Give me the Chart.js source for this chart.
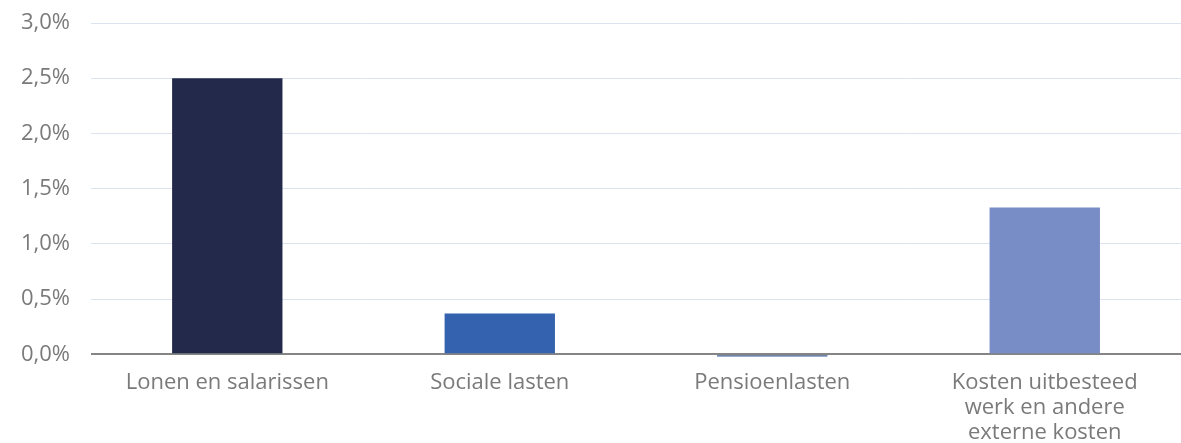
<!DOCTYPE html>
<html>
<head>
<meta charset="utf-8">
<script src="https://cdn.jsdelivr.net/npm/chart.js@4"></script>
<style>
  html, body { margin: 0; padding: 0; background: #fff; overflow: hidden; }
  #wrap { width: 1181px; height: 467px; margin-top: -9px; position: relative; }
</style>
</head>
<body>
<div id="wrap"><canvas id="chart"></canvas></div>
<script>
// categorieën en waarden (in %)
const categories = [
    'Lonen en salarissen',
    'Sociale lasten',
    'Pensioenlasten',
    ['Kosten uitbesteed', 'werk en andere', 'externe kosten']
];
const values = [2.5, 0.37, -0.02, 1.33];
const barColors = ['#22294a', '#3562ae', '#3a5a92', '#788dc5'];
const yTicks = [0, 0.5, 1.0, 1.5, 2.0, 2.5, 3.0];

const ctx = document.getElementById('chart').getContext('2d');
new Chart(ctx, {
    type: 'bar',
    data: {
        labels: categories,
        datasets: [{
            data: values,
            backgroundColor: barColors,
            categoryPercentage: 1.0,
            barPercentage: 0.405
        }]
    },
    options: {
        responsive: true,
        maintainAspectRatio: false,
        animation: false,
        layout: { padding: 0 },
        plugins: {
            legend: { display: false },
            tooltip: { enabled: false }
        },
        scales: {
            x: {
                grid: { display: false, drawTicks: false },
                border: { display: false },
                ticks: {
                    color: '#7a7a7a',
                    font: { family: 'Open Sans', size: 22, lineHeight: 1.136 },
                    padding: 13,
                    maxRotation: 0
                }
            },
            y: {
                min: -0.025,
                max: 3.0,
                afterBuildTicks: (axis) => {
                    axis.ticks = yTicks.map(v => ({ value: v }));
                },
                border: { display: false },
                grid: {
                    color: (c) => c.tick && c.tick.value === 0 ? '#858585' : '#dbe4ee',
                    lineWidth: (c) => c.tick && c.tick.value === 0 ? 2 : 1,
                    drawTicks: false
                },
                ticks: {
                    color: '#7a7a7a',
                    padding: 21,
                    font: { family: 'Open Sans', size: 22, lineHeight: 1 },
                    callback: (v) => v.toFixed(1).replace('.', ',') + '%'
                }
            }
        }
    }
});
</script>
</body>
</html>
